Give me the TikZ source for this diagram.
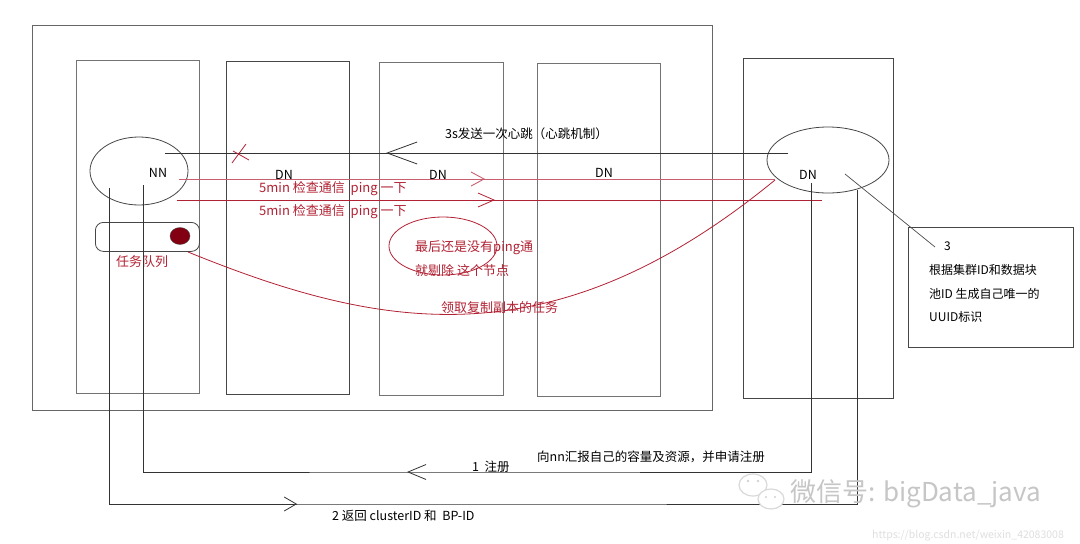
\documentclass[tikz,border=0pt]{standalone}
\usepackage{fontspec}
\setmainfont{Noto Sans CJK SC}
\usepackage{xcolor}
\usetikzlibrary{arrows.meta, decorations.markings, shapes.geometric, positioning}

\definecolor{pingred}{RGB}{178,34,52}
\definecolor{pinglight}{RGB}{200,95,112}
\definecolor{taskdot}{RGB}{130,0,18}
\definecolor{boxline}{RGB}{70,70,70}

\tikzset{
  box/.style={draw=boxline, line width=0.8pt, anchor=north west, inner sep=0},
  lbl/.style={anchor=west, inner sep=0, font=\fontsize{12.5}{14}\selectfont},
  redlbl/.style={lbl, text=pingred, font=\fontsize{13}{15}\selectfont},
  wire/.style={draw=black!80, line width=0.8pt},
  chev/.style 2 args={postaction={decorate, decoration={markings,
      mark=at position #1 with {\arrow{Straight Barb[#2]}}}}}
}

\begin{document}
\begin{tikzpicture}[x=1pt, y=-1pt]
  \useasboundingbox[fill=white] (0,0) rectangle (1080,544);

  % rack and columns
  \node[box, draw=black!60, minimum width=680pt, minimum height=385pt] (rack) at (32,25) {};
  \node[box, draw=black!55, minimum width=123pt, minimum height=333pt] (col1) at (76,60) {};
  \node[box, minimum width=123pt, minimum height=333pt] (col2) at (226,61) {};
  \node[box, draw=black!55, minimum width=124pt, minimum height=333pt] (col3) at (379,62) {};
  \node[box, draw=black!55, minimum width=123pt, minimum height=333pt] (col4) at (537,63) {};
  \node[box, minimum width=150pt, minimum height=340pt] (newdn) at (743,58) {};
  \node[box, minimum width=165pt, minimum height=120pt] (note) at (908,227) {};

  % NN and DN ellipses
  \node[ellipse, draw=boxline, line width=0.8pt, minimum width=98pt, minimum height=68pt] (nn) at (139,171) {};
  \node[ellipse, draw=boxline, line width=0.8pt, minimum width=122pt, minimum height=66pt] (dnR) at (828,160) {};
  \node[lbl, anchor=center] (nnT) at (158,173) {NN};
  \node[lbl, anchor=center] (dn1) at (284,175) {DN};
  \node[lbl, anchor=center] (dn2) at (438,175) {DN};
  \node[lbl, anchor=center] (dn3) at (604,173) {DN};
  \node[lbl, anchor=center] (dnRT) at (808,175) {DN};

  % heartbeat
  \coordinate (hbL) at (165,153);
  \coordinate (hbR) at (788,153);
  \path[wire, chev={402pt}{length=30pt, width=22pt}] (hbR) -- (hbL);
  \node[lbl] (hbT) at (445,134) {3s发送一次心跳（心跳机制）};
  \draw[pingred, line width=0.8pt] (232,163) -- (246,144) (233,151) -- (249,160);

  % ping checks
  \coordinate (p1L) at (179,179);
  \coordinate (p1R) at (775,179);
  \coordinate (p2L) at (177,200);
  \coordinate (p2R) at (822,200);
  \path[draw=pinglight, line width=0.9pt, chev={306pt}{length=13pt, width=14pt}] (p1L) -- (p1R);
  \path[draw=pingred, line width=0.8pt, chev={318pt}{length=16pt, width=14pt}] (p2L) -- (p2R);
  \node[redlbl] (ping1) at (259,189) {5min 检查通信 \ ping 一下};
  \node[redlbl] (ping2) at (259,212) {5min 检查通信 \ ping 一下};

  % removal note
  \node[ellipse, draw=pingred, line width=0.8pt, minimum width=108pt, minimum height=58pt] (dropE) at (443,246) {};
  \node[redlbl] (drop1) at (415,248) {最后还是没有ping通};
  \node[redlbl] (drop2) at (415,271) {就剔除 这个节点};

  % task queue
  \node[box, rounded corners=8pt, minimum width=104pt, minimum height=29pt] (queue) at (95,222) {};
  \node[ellipse, draw=black!70, fill=taskdot, minimum width=20pt, minimum height=17pt, inner sep=0] (task) at (180,236) {};
  \node[redlbl] (queueT) at (116,262) {任务队列};
  \coordinate (qOut) at (188,252);
  \coordinate (dnIn) at (775,180);
  \draw[pingred, line width=0.8pt] (qOut) .. controls (380,330) and (552,363) .. (dnIn);
  \node[redlbl] (fetchT) at (441,308) {领取复制副本的任务};

  % register and reply
  \coordinate (regA) at (811,183);
  \coordinate (regB) at (143,185);
  \path[wire, chev={693pt}{length=18pt, width=15pt}] (regA) |- (472,472) -| (regB);
  \node[lbl] (regT) at (472,467) {1 \ 注册};
  \node[lbl] (regInfo) at (537,457) {向nn汇报自己的容量及资源，并申请注册};
  \coordinate (repA) at (109,188);
  \coordinate (repB) at (857,190);
  \path[wire, chev={504pt}{length=12pt, width=14pt}] (repA) |- (480,504) -| (repB);
  \node[lbl] (repT) at (332,516) {2 返回 clusterID 和 \ BP-ID};

  % uuid note
  \coordinate (uuidIn) at (935,247);
  \draw[black!70, line width=0.7pt] (845,174) -- (uuidIn);
  \node[lbl, font=\fontsize{12}{14}\selectfont] (n0) at (944,246) {3};
  \node[lbl, font=\fontsize{12}{14}\selectfont] (n1) at (929,270) {根据集群ID和数据块};
  \node[lbl, font=\fontsize{12}{14}\selectfont] (n2) at (929,294) {池ID 生成自己唯一的};
  \node[lbl, font=\fontsize{12}{14}\selectfont] (n3) at (929,317) {UUID标识};

  % watermark
  \draw[gray!30, line width=1.2pt, fill=white] (753,485) ellipse [x radius=14, y radius=11];
  \fill[gray!35] (748,481) circle (1.3) (758,481) circle (1.3);
  \draw[gray!30, line width=1.2pt, fill=white] (771,499) ellipse [x radius=13, y radius=10];
  \fill[gray!35] (766,497) circle (1.2) (775,497) circle (1.2);
  \node[lbl, text=gray!45, font=\fontsize{26}{28}\selectfont] (wm) at (790,494) {微信号: bigData\_java};
  \node[lbl, text=gray!25, font=\fontsize{10.5}{12}\selectfont] (url) at (872,536) {https://blog.csdn.net/weixin\_42083008};
\end{tikzpicture}
\end{document}
